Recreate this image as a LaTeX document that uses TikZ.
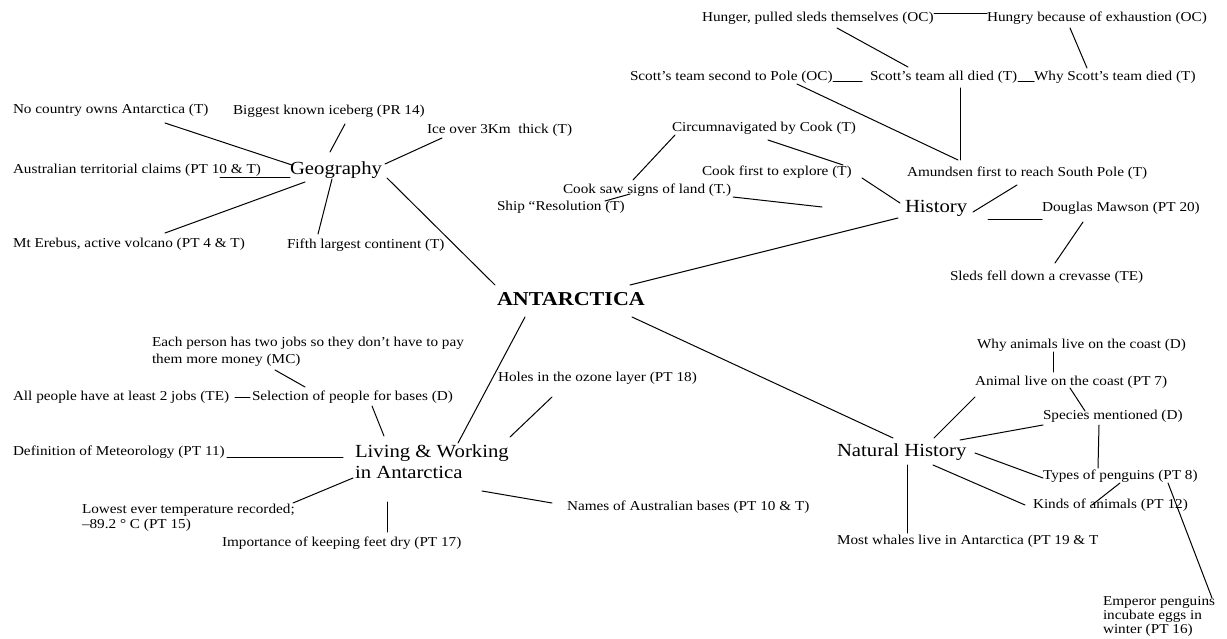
\documentclass[tikz,border=0pt]{standalone}
\usepackage{fontspec}
\setmainfont{Liberation Serif}[FakeStretch=1.12]
\usetikzlibrary{calc}
\begin{document}
\begin{tikzpicture}[x=1pt,y=-1pt,
  leaf/.style={anchor=west,inner sep=0pt,outer sep=0pt,align=left,
    font=\fontsize{13.6}{17}\selectfont},
  topic/.style={anchor=west,inner sep=0pt,outer sep=0pt,align=left,
    font=\fontsize{18.5}{21}\selectfont},
  hub/.style={anchor=west,inner sep=0pt,outer sep=0pt,
    font=\fontsize{19.7}{24}\selectfont\bfseries},
  link/.style={line width=1pt,line cap=round}]

\fill[white] (0,0) rectangle (1227,639);
\useasboundingbox (0,0) rectangle (1227,639);

% ---------- centre ----------
\node[hub] (ant) at (497,299) {ANTARCTICA};

% ---------- Geography ----------
\node[topic] (geo) at (290,170) {Geography};
\node[leaf] (nocountry) at (13,110) {No country owns Antarctica (T)};
\node[leaf] (iceberg) at (233,111) {Biggest known iceberg (PR 14)};
\node[leaf] (ice) at (427,130) {Ice over 3Km\ \ thick (T)};
\node[leaf] (aus) at (13,170) {Australian territorial claims (PT 10 \& T)};
\node[leaf] (erebus) at (13,244) {Mt Erebus, active volcano (PT 4 \& T)};
\node[leaf] (fifth) at (287,245) {Fifth largest continent (T)};

% ---------- History ----------
\node[topic] (hist) at (905,208) {History};
\node[leaf] (hunger) at (702,18) {Hunger, pulled sleds themselves (OC)};
\node[leaf] (hungry) at (987,18) {Hungry because of exhaustion (OC)};
\node[leaf] (second) at (630,77) {Scott's team second to Pole (OC)};
\node[leaf] (alldied) at (870,77) {Scott's team all died (T)};
\node[leaf] (why) at (1034,77) {Why Scott's team died (T)};
\node[leaf] (amundsen) at (907,173) {Amundsen first to reach South Pole (T)};
\node[leaf] (circ) at (672,128) {Circumnavigated by Cook (T)};
\node[leaf] (cookfirst) at (702,172) {Cook first to explore (T)};
\node[leaf] (cooksaw) at (563,190) {Cook saw signs of land (T.)};
\node[leaf] (ship) at (497,207) {Ship “Resolution (T)};
\node[leaf] (mawson) at (1042,208) {Douglas Mawson (PT 20)};
\node[leaf] (sleds) at (950,277) {Sleds fell down a crevasse (TE)};
\coordinate (cfree) at (822,207);

% ---------- Living & Working ----------
\node[topic] (living) at (355,462) {Living \& Working\\in Antarctica};
\node[leaf] (eachp) at (152,352) {Each person has two jobs so they don't have to pay\\them more money (MC)};
\node[leaf] (allpeople) at (13,397) {All people have at least 2 jobs (TE)};
\node[leaf] (selection) at (252,397) {Selection of people for bases (D)};
\node[leaf] (definition) at (13,452) {Definition of Meteorology (PT 11)};
\node[leaf,font=\fontsize{13.6}{15}\selectfont] (lowest) at (82,518) {Lowest ever temperature recorded;\\–89.2 ° C (PT 15)};
\node[leaf] (importance) at (222,543) {Importance of keeping feet dry (PT 17)};
\node[leaf] (names) at (567,507) {Names of Australian bases (PT 10 \& T)};
\node[leaf] (holes) at (498,378) {Holes in the ozone layer (PT 18)};

% ---------- Natural History ----------
\node[topic] (nh) at (837,452) {Natural History};
\node[leaf] (whyan) at (977,345) {Why animals live on the coast (D)};
\node[leaf] (animal) at (975,382) {Animal live on the coast (PT 7)};
\node[leaf] (species) at (1043,416) {Species mentioned (D)};
\node[leaf] (types) at (1043,476) {Types of penguins (PT 8)};
\node[leaf] (kinds) at (1033,505) {Kinds of animals (PT 12)};
\node[leaf] (whales) at (837,541) {Most whales live in Antarctica (PT 19 \& T};
\node[leaf,font=\fontsize{13.6}{14}\selectfont] (emperor) at (1103,616) {Emperor penguins\\incubate eggs in\\winter (PT 16)};

% ---------- connectors ----------
\begin{scope}[link]
% Geography
\draw ($(nocountry.west)+(152,13)$) -- ($(geo.west)+(2,-5)$);
\draw ($(iceberg.west)+(112,13)$) -- ($(geo.west)+(40,-18)$);
\draw ($(ice.west)+(15,8)$) -- ($(geo.west)+(95,-6)$);
\draw ($(aus.west)+(207,8)$) -- ($(geo.west)+(0,8)$);
\draw ($(geo.west)+(15,12)$) -- ($(erebus.west)+(152,-11)$);
\draw ($(geo.west)+(42,9)$) -- ($(fifth.west)+(31,-11)$);
\draw ($(geo.west)+(97,8)$) -- ($(ant.west)+(-2,-14)$);
% History
\draw ($(hunger.west)+(232,-4)$) -- ($(hungry.west)+(0,-4)$);
\draw ($(hunger.west)+(135,10)$) -- ($(alldied.west)+(38,-10)$);
\draw ($(hungry.west)+(83,10)$) -- ($(why.west)+(53,-9)$);
\draw ($(second.west)+(203,5)$) -- ($(alldied.west)+(-8,5)$);
\draw ($(alldied.west)+(148,5)$) -- ($(why.west)+(0,5)$);
\draw ($(alldied.west)+(90,11)$) -- ($(amundsen.west)+(53,-13)$);
\draw ($(second.west)+(167,7)$) -- ($(amundsen.west)+(51,-13)$);
\draw ($(amundsen.west)+(110,12)$) -- ($(hist.west)+(68,4)$);
\draw ($(circ.west)+(3,7)$) -- ($(cooksaw.west)+(70,-10)$);
\draw ($(circ.west)+(96,12)$) -- ($(cookfirst.west)+(141,-7)$);
\draw ($(cookfirst.west)+(160,6)$) -- ($(hist.west)+(-5,-5)$);
\draw ($(cooksaw.west)+(170,7)$) -- (cfree);
\draw ($(ship.west)+(108,-6)$) -- ($(cooksaw.west)+(67,4)$);
\draw ($(hist.west)+(83,12)$) -- ($(mawson.west)+(0,12)$);
\draw ($(mawson.west)+(41,14)$) -- ($(sleds.west)+(105,-14)$);
\draw ($(ant.west)+(133,-14)$) -- ($(hist.west)+(-7,10)$);
% Living & Working
\draw ($(ant.west)+(28,18)$) -- ($(living.west)+(103,-19)$);
\draw ($(eachp.west)+(123,18)$) -- ($(selection.west)+(53,-10)$);
\draw ($(allpeople.west)+(222,0)$) -- ($(selection.west)+(-2,0)$);
\draw ($(selection.west)+(120,9)$) -- ($(living.west)+(29,-26)$);
\draw ($(definition.west)+(214,5)$) -- ($(living.west)+(-12,-5)$);
\draw ($(living.west)+(-2,16)$) -- ($(lowest.west)+(211,-15)$);
\draw ($(living.west)+(32,40)$) -- ($(importance.west)+(165,-11)$);
\draw ($(living.west)+(127,29)$) -- ($(names.west)+(-15,-4)$);
\draw ($(holes.west)+(54,19)$) -- ($(living.west)+(155,-25)$);
% Natural History
\draw ($(ant.west)+(135,18)$) -- ($(nh.west)+(56,-14)$);
\draw ($(whyan.west)+(76,7)$) -- ($(animal.west)+(78,-10)$);
\draw ($(animal.west)+(95,6)$) -- ($(species.west)+(42,-5)$);
\draw ($(animal.west)+(0,15)$) -- ($(nh.west)+(97,-14)$);
\draw ($(nh.west)+(123,-12)$) -- ($(species.west)+(0,9)$);
\draw ($(species.west)+(56,9)$) -- ($(types.west)+(55,-8)$);
\draw ($(nh.west)+(138,1)$) -- ($(types.west)+(0,2)$);
\draw ($(nh.west)+(96,13)$) -- ($(kinds.west)+(-8,0)$);
\draw ($(types.west)+(77,7)$) -- ($(kinds.west)+(59,0)$);
\draw ($(types.west)+(125,7)$) -- ($(emperor.west)+(109,-18)$);
\draw ($(nh.west)+(70,13)$) -- ($(whales.west)+(70,-8)$);
\end{scope}
\end{tikzpicture}
\end{document}
